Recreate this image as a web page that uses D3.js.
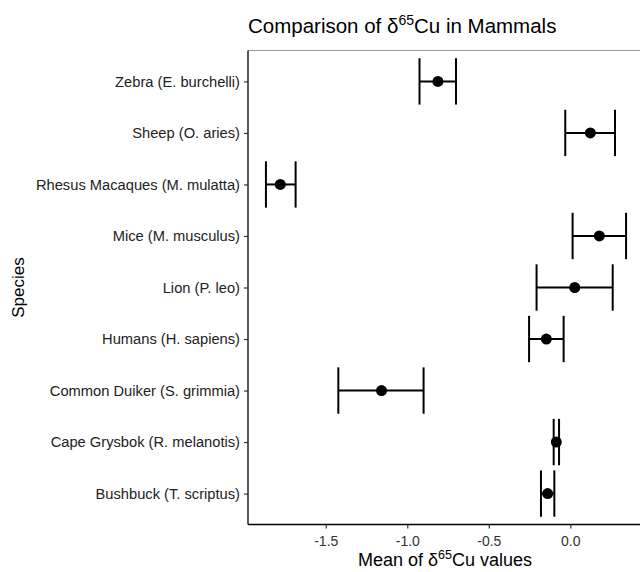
<!doctype html>
<html>
  <head>
    <meta charset="utf-8">
    <title>Comparison of d65Cu in Mammals</title>
    <style>
      * { margin: 0; padding: 0; }
      body { background: #fff; font-family: "Liberation Sans", Arial, Helvetica, sans-serif; }
      svg text { font-family: "Liberation Sans", Arial, Helvetica, sans-serif; }
    </style>
    <script src="https://d3js.org/d3.v7.min.js"></script>
  </head>
  <body>
    <div id="chart"></div>
    <script>
    // species, top to bottom
    const species = ["Zebra (E. burchelli)", "Sheep (O. aries)", "Rhesus Macaques (M. mulatta)",
      "Mice (M. musculus)", "Lion (P. leo)", "Humans (H. sapiens)", "Common Duiker (S. grimmia)",
      "Cape Grysbok (R. melanotis)", "Bushbuck (T. scriptus)"]
    const means = [-0.812, 0.123, -1.779, 0.178, 0.027, -0.147, -1.158, -0.086, -0.139]
    const lower = [-0.925, -0.031, -1.867, 0.014, -0.207, -0.253, -1.423, -0.102, -0.180]
    const upper = [-0.701, 0.274, -1.685, 0.342, 0.260, -0.041, -0.900, -0.069, -0.098]
    const xTicks = [-1.5, -1.0, -0.5, 0.0]

    const W = 640, H = 572
    const pLeft = 248, pRight = 644, pTop = 50.5, pBottom = 524.5

    const svg = d3.select("#chart").append("svg").attr("width", W).attr("height", H)

    const x = d3.scaleLinear().domain([-1.977, 0.452]).range([pLeft, pRight])
    const y = d3.scalePoint().domain(species).range([pTop, pBottom]).padding(0.6)
    const band = y.step()

    // top panel line (grey)
    svg.append("line").attr("x1", pLeft).attr("x2", pRight).attr("y1", pTop).attr("y2", pTop)
      .style("stroke", "#999").style("stroke-width", 1.2)

    // axes
    const xAxis = svg.append("g").attr("transform", "translate(0," + pBottom + ")")
      .call(d3.axisBottom(x).tickValues(xTicks).tickFormat(function (d) { return d.toFixed(1) })
        .tickSize(4).tickSizeOuter(0))
    const yAxis = svg.append("g").attr("transform", "translate(" + pLeft + ",0)")
      .call(d3.axisLeft(y).tickSize(4).tickSizeOuter(0))

    svg.selectAll(".domain").style("stroke", "#000").style("stroke-width", 1.3)
    svg.selectAll(".tick line").style("stroke", "#333").style("stroke-width", 1.2)
    xAxis.selectAll("text").style("font-size", "14px").style("fill", "#333").attr("y", 9).attr("dy", "0.9em")
    yAxis.selectAll("text").style("font-size", "14.7px").style("fill", "#222").attr("x", -8)
    // extend domain line to full panel
    xAxis.select(".domain").attr("d", "M" + pLeft + ",0H" + pRight)
    yAxis.select(".domain").attr("d", "M0," + pTop + "V" + pBottom)

    const rows = species.map(function (s, i) {
      return { name: s, mean: means[i], lo: lower[i], hi: upper[i] }
    })

    const g = svg.append("g")
    const cap = band * 0.9 / 2
    rows.forEach(function (d) {
      const cy = y(d.name)
      g.append("line").attr("x1", x(d.lo)).attr("x2", x(d.hi)).attr("y1", cy).attr("y2", cy)
        .style("stroke", "#000").style("stroke-width", 2)
      g.append("line").attr("x1", x(d.lo)).attr("x2", x(d.lo)).attr("y1", cy - cap).attr("y2", cy + cap)
        .style("stroke", "#000").style("stroke-width", 2)
      g.append("line").attr("x1", x(d.hi)).attr("x2", x(d.hi)).attr("y1", cy - cap).attr("y2", cy + cap)
        .style("stroke", "#000").style("stroke-width", 2)
      g.append("circle").attr("cx", x(d.mean)).attr("cy", cy).attr("r", 5.5).style("fill", "#000")
    })

    // title
    const title = svg.append("text").attr("x", pLeft).attr("y", 33)
      .style("font-size", "20.5px").style("fill", "#000")
    title.append("tspan").text("Comparison of \u03b4")
    title.append("tspan").text("65").style("font-size", "14px").attr("dy", -8)
    title.append("tspan").text("Cu in Mammals").attr("dy", 8)

    // x title
    const xt = svg.append("text").attr("x", 445).attr("y", 566)
      .attr("text-anchor", "middle").style("font-size", "18px").style("fill", "#000")
    xt.append("tspan").text("Mean of \u03b4")
    xt.append("tspan").text("65").style("font-size", "12.5px").attr("dy", -7)
    xt.append("tspan").text("Cu values").attr("dy", 7)

    // y title
    svg.append("text").attr("transform", "translate(24," + ((pTop + pBottom) / 2) + ") rotate(-90)")
      .attr("text-anchor", "middle").style("font-size", "17px").style("fill", "#000").text("Species")
    </script>
  </body>
</html>
